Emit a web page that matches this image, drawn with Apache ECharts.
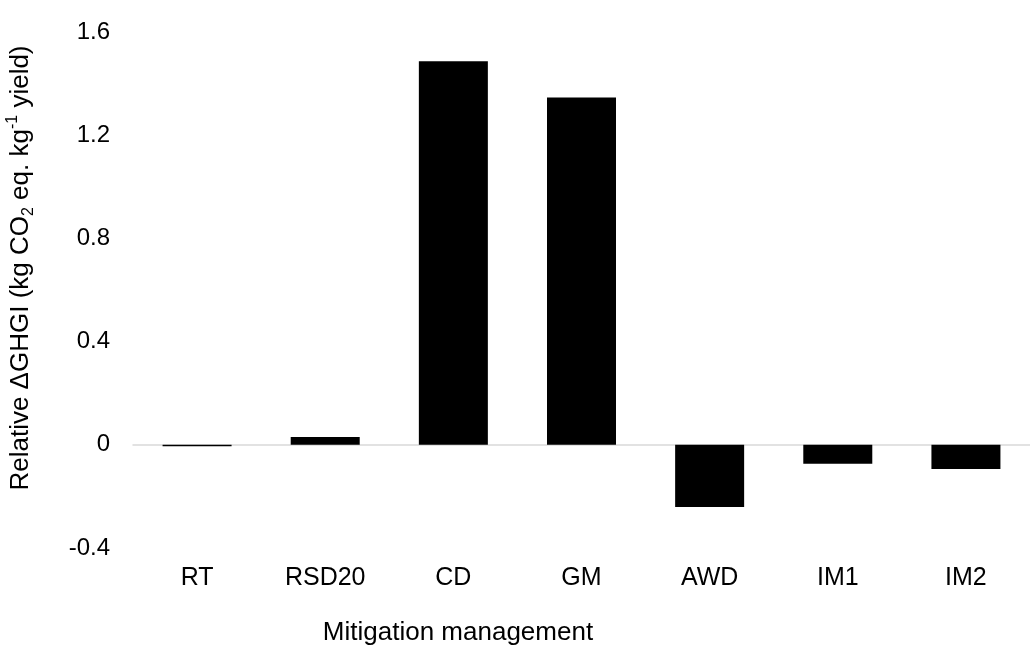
<!DOCTYPE html>
<html>
<head>
<meta charset="utf-8">
<script src="https://cdn.jsdelivr.net/npm/echarts@6/dist/echarts.min.js"></script>
<style>
html,body{margin:0;padding:0;background:#fff;}
#chart{width:1030px;height:646px;}
</style>
</head>
<body>
<div id="chart"></div>
<script>
var categories = ['RT', 'RSD20', 'CD', 'GM', 'AWD', 'IM1', 'IM2'];
var values = [-0.006, 0.030, 1.487, 1.346, -0.241, -0.073, -0.094];
var yTicks = { min: -0.4, max: 1.6, interval: 0.4 };
var xName = 'Mitigation management';

var chart = echarts.init(document.getElementById('chart'), null, { renderer: 'canvas' });
var FONT = 'Liberation Sans, Arial, sans-serif';

chart.setOption({
  animation: false,
  backgroundColor: '#fff',
  grid: { left: 133, top: 32, width: 910, height: 516, containLabel: false },
  xAxis: {
    type: 'category',
    data: categories,
    position: 'bottom',
    axisLine: { show: true, onZero: true, lineStyle: { color: '#d9d9d9', width: 1.5 } },
    axisTick: { show: false },
    axisLabel: {
      interval: 0,
      margin: 18,
      fontFamily: FONT,
      fontSize: 25,
      color: '#000'
    },
    splitLine: { show: false }
  },
  yAxis: {
    type: 'value',
    min: yTicks.min,
    max: yTicks.max,
    interval: yTicks.interval,
    axisLine: { show: false },
    axisTick: { show: false },
    splitLine: { show: false },
    axisLabel: {
      margin: 23,
      fontFamily: FONT,
      fontSize: 24,
      color: '#000',
      formatter: function (v) {
        var r = Math.round(v * 10) / 10;
        return r === 0 ? '0' : r.toFixed(1);
      }
    }
  },
  series: [{
    type: 'bar',
    data: values,
    barWidth: 69,
    itemStyle: { color: '#000' }
  }],
  graphic: [
    {
      type: 'text',
      x: 458,
      y: 633,
      style: {
        text: xName,
        font: '26px ' + FONT,
        fill: '#000',
        align: 'center',
        verticalAlign: 'middle'
      }
    },
    {
      type: 'text',
      x: 21,
      y: 268,
      rotation: Math.PI / 2,
      style: {
        text: 'Relative \u0394GHGI (kg CO{sub|2} eq. kg{sup|-1} yield)',
        font: '26px ' + FONT,
        fill: '#000',
        align: 'center',
        verticalAlign: 'middle',
        lineHeight: 32,
        rich: {
          sub: { fontSize: 16, fontFamily: FONT, fill: '#000', verticalAlign: 'bottom', lineHeight: 32 },
          sup: { fontSize: 16, fontFamily: FONT, fill: '#000', verticalAlign: 'top', lineHeight: 32 }
        }
      }
    }
  ]
});
</script>
</body>
</html>
